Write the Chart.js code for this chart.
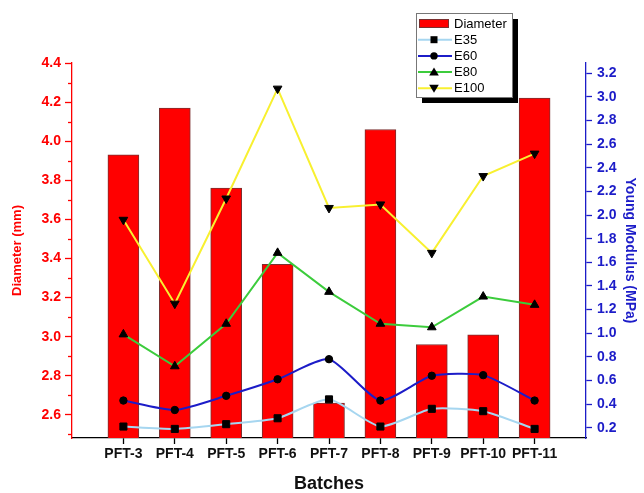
<!DOCTYPE html>
<html lang="en">
<head>
  <meta charset="UTF-8" />
  <title>Diameter and Young Modulus by batch</title>
  <script src="https://cdn.jsdelivr.net/npm/chart.js"></script>
  <style>
    html, body { margin: 0; padding: 0; background: #fff; }
    #wrap { width: 644px; height: 493px; position: relative; }
  </style>
</head>
<body>
  <div id="wrap"><canvas id="chart"></canvas></div>

  <script>
    // Data
    const batches = ['PFT-3', 'PFT-4', 'PFT-5', 'PFT-6', 'PFT-7', 'PFT-8', 'PFT-9', 'PFT-10', 'PFT-11'];
    const diameter = [3.93, 4.17, 3.76, 3.37, 2.66, 4.06, 2.96, 3.01, 4.22];
    const e35 = [0.21, 0.19, 0.23, 0.28, 0.44, 0.21, 0.36, 0.34, 0.19];
    const e60 = [0.43, 0.35, 0.47, 0.61, 0.78, 0.43, 0.64, 0.645, 0.43];
    const e80 = [0.99, 0.72, 1.08, 1.68, 1.35, 1.08, 1.05, 1.31, 1.24];
    const e100 = [1.96, 1.25, 2.14, 3.07, 2.06, 2.09, 1.68, 2.33, 2.52];

    const diameterTicks = [2.6, 2.8, 3.0, 3.2, 3.4, 3.6, 3.8, 4.0, 4.2, 4.4];
    const diameterMinor = [2.5, 2.7, 2.9, 3.1, 3.3, 3.5, 3.7, 3.9, 4.1, 4.3];
    const modulusTicks = [0.2, 0.4, 0.6, 0.8, 1.0, 1.2, 1.4, 1.6, 1.8, 2.0, 2.2, 2.4, 2.6, 2.8, 3.0, 3.2];

    const RED = '#ff0000';
    const BLUE = '#1c1cc8';
    const FONT = "'Liberation Sans', Arial, sans-serif";

    Chart.defaults.font.family = FONT;
    Chart.defaults.color = '#000';

    const toXY = (arr) => arr.map((v, i) => ({ x: i, y: v }));

    function lineSet(label, data, color, style, rotation, radius, tension) {
      return {
        type: 'line',
        label: label,
        data: toXY(data),
        yAxisID: 'yR',
        borderColor: color,
        borderWidth: 2,
        pointStyle: style,
        rotation: rotation,
        pointRadius: radius,
        pointBackgroundColor: '#000',
        pointBorderColor: '#000',
        pointBorderWidth: 1,
        tension: tension,
        order: 1
      };
    }

    // minor ticks on the left axis
    const minorTicks = {
      id: 'minorTicks',
      afterDraw(chart) {
        const s = chart.scales.yL;
        const ctx = chart.ctx;
        ctx.save();
        ctx.strokeStyle = RED;
        ctx.lineWidth = 1.3;
        diameterMinor.forEach(v => {
          const y = Math.round(s.getPixelForValue(v)) + 0.5;
          ctx.beginPath();
          ctx.moveTo(s.right - 4, y);
          ctx.lineTo(s.right, y);
          ctx.stroke();
        });
        ctx.restore();
      }
    };

    function drawMarker(ctx, style, x, y) {
      ctx.fillStyle = '#000';
      ctx.beginPath();
      if (style === 'rect') {
        ctx.rect(x - 3.5, y - 3.5, 7, 7);
      } else if (style === 'circle') {
        ctx.arc(x, y, 3.7, 0, Math.PI * 2);
      } else if (style === 'up') {
        ctx.moveTo(x, y - 4.5); ctx.lineTo(x + 4.8, y + 3.5); ctx.lineTo(x - 4.8, y + 3.5);
      } else {
        ctx.moveTo(x, y + 4.5); ctx.lineTo(x + 4.8, y - 3.5); ctx.lineTo(x - 4.8, y - 3.5);
      }
      ctx.closePath();
      ctx.fill();
    }

    // boxed legend with a drop shadow
    const legendBox = {
      id: 'legendBox',
      afterDraw(chart) {
        const ctx = chart.ctx;
        const x = 416, y = 13, w = 96, h = 84;
        const marks = ['bar', 'rect', 'circle', 'up', 'down'];
        ctx.save();
        ctx.fillStyle = '#000';
        ctx.fillRect(x + 6, y + 6, w, h);
        ctx.fillStyle = '#fff';
        ctx.fillRect(x, y, w, h);
        ctx.strokeStyle = '#777';
        ctx.lineWidth = 1;
        ctx.strokeRect(x + 0.5, y + 0.5, w, h);
        ctx.font = '13px ' + FONT;
        ctx.textBaseline = 'middle';
        chart.data.datasets.forEach((ds, i) => {
          const cy = y + 10.5 + i * 16.2;
          if (marks[i] === 'bar') {
            ctx.fillStyle = ds.backgroundColor;
            ctx.fillRect(419, cy - 4.5, 30, 9);
            ctx.strokeStyle = ds.borderColor;
            ctx.strokeRect(419.5, cy - 4, 29, 8);
          } else {
            ctx.strokeStyle = ds.borderColor;
            ctx.lineWidth = 2;
            ctx.beginPath();
            ctx.moveTo(418, cy);
            ctx.lineTo(452, cy);
            ctx.stroke();
            drawMarker(ctx, marks[i], 434, cy);
          }
          ctx.fillStyle = '#000';
          ctx.fillText(ds.label, 454, cy + 0.5);
        });
        ctx.restore();
      }
    };

    new Chart(document.getElementById('chart'), {
      data: {
        datasets: [
          {
            type: 'bar',
            label: 'Diameter',
            data: toXY(diameter),
            yAxisID: 'yL',
            backgroundColor: RED,
            borderColor: '#7a3030',
            borderWidth: 1,
            barThickness: 31,
            order: 10
          },
          lineSet('E35', e35, '#a6d6f0', 'rect', 0, 5, 0.2),
          lineSet('E60', e60, BLUE, 'circle', 0, 3.7, 0.2),
          lineSet('E80', e80, '#3ccc3c', 'triangle', 0, 5, 0),
          lineSet('E100', e100, '#f8f030', 'triangle', 180, 5, 0)
        ]
      },
      options: {
        responsive: true,
        maintainAspectRatio: false,
        animation: false,
        layout: { padding: { top: 63, left: 0, right: 0, bottom: 0 } },
        plugins: {
          legend: { display: false },
          tooltip: { enabled: false }
        },
        scales: {
          x: {
            type: 'linear',
            min: -1,
            max: 9,
            offset: false,
            afterBuildTicks: (s) => { s.ticks = batches.map((b, i) => ({ value: i })); },
            afterFit: (s) => { s.height = 55; },
            ticks: {
              callback: (v) => batches[v] || '',
              color: '#111',
              font: { size: 14, weight: 'bold' },
              padding: 2,
              maxRotation: 0,
              autoSkip: false
            },
            grid: { offset: false, drawOnChartArea: false, tickLength: 6, tickColor: '#000', tickWidth: 1.3 },
            border: { color: '#000', width: 1.3 },
            title: {
              display: true,
              text: 'Batches',
              color: '#111',
              font: { size: 18, weight: 'bold', lineHeight: 1 },
              padding: { top: 0, bottom: 0 }
            }
          },
          yL: {
            type: 'linear',
            position: 'left',
            min: 2.482,
            max: 4.4,
            afterBuildTicks: (s) => { s.ticks = diameterTicks.map(v => ({ value: v })); },
            afterFit: (s) => { s.width = 72; },
            ticks: {
              callback: (v) => v.toFixed(1),
              color: RED,
              font: { size: 14, weight: 'bold' },
              padding: 4
            },
            grid: { drawOnChartArea: false, tickLength: 7, tickColor: RED, tickWidth: 1.3 },
            border: { color: RED, width: 1.3 },
            title: {
              display: true,
              text: 'Diameter (mm)',
              color: RED,
              font: { size: 13, weight: 'bold' },
              padding: { top: 10, bottom: 0 }
            }
          },
          yR: {
            type: 'linear',
            position: 'right',
            min: 0.113,
            max: 3.287,
            afterBuildTicks: (s) => { s.ticks = modulusTicks.map(v => ({ value: v })); },
            afterFit: (s) => { s.width = 58; },
            ticks: {
              callback: (v) => v.toFixed(1),
              color: BLUE,
              font: { size: 14, weight: 'bold' },
              padding: 5
            },
            grid: { drawOnChartArea: false, tickLength: 6, tickColor: BLUE, tickWidth: 1.3 },
            border: { color: BLUE, width: 1.3 },
            title: {
              display: true,
              text: 'Young Modulus (MPa)',
              color: BLUE,
              font: { size: 14, weight: 'bold' },
              padding: { top: 6, bottom: 6 }
            }
          }
        }
      },
      plugins: [minorTicks, legendBox]
    });
  </script>
</body>
</html>
